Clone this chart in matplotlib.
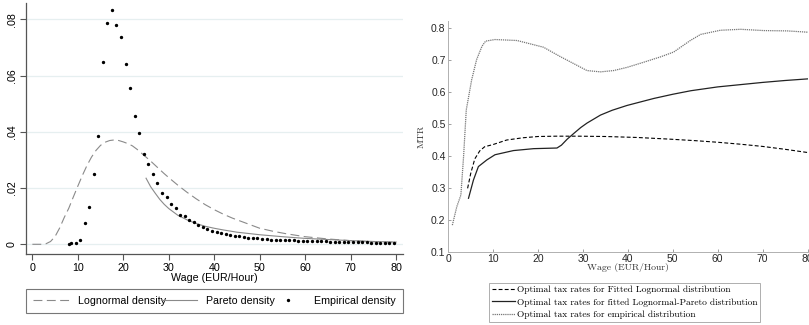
import numpy as np
import matplotlib
matplotlib.use("Agg")
import matplotlib.pyplot as plt
from matplotlib.legend_handler import HandlerLine2D

# ---- left panel: densities ----
logn_x = [0, 2, 3, 4, 5, 6, 7, 8, 9, 10, 11, 12, 13, 14, 15, 16, 17, 18, 19, 20,
          21, 22, 23, 24, 25, 26, 27, 28, 29, 30, 32, 34, 36, 38, 40, 42, 44, 46,
          48, 50, 53, 56, 60, 65, 70, 75, 80]
logn_y = [0, 0, 0.0002, 0.0010, 0.0028, 0.0058, 0.0095, 0.0128, 0.0168, 0.0207,
          0.0245, 0.0280, 0.0310, 0.0334, 0.0352, 0.0363, 0.0369, 0.0371, 0.0369,
          0.0364, 0.0358, 0.0350, 0.0338, 0.0324, 0.0310, 0.0296, 0.0281, 0.0266,
          0.0251, 0.0237, 0.0210, 0.0185, 0.0162, 0.0141, 0.0123, 0.0107, 0.0093,
          0.0081, 0.0069, 0.0057, 0.0046, 0.0037, 0.0027, 0.0019, 0.0013, 0.0009,
          0.0007]

pareto_x = [25, 26, 27, 28, 29, 30, 32, 34, 36, 38, 40, 42, 45, 50, 55, 60, 65, 70, 75, 80]
pareto_y = [0.0235, 0.0205, 0.0182, 0.0160, 0.0142, 0.0127, 0.0103, 0.0087, 0.0074,
            0.0064, 0.0057, 0.0051, 0.0043, 0.0034, 0.0027, 0.0021, 0.0017, 0.0013,
            0.0010, 0.0008]

emp_x = [8.0] + [8.5 + i for i in range(72)]
emp_y = [0, 0.0004, 0.0006, 0.0016, 0.0075, 0.0132, 0.0250, 0.0385, 0.0647, 0.0787,
         0.0834, 0.0781, 0.0738, 0.0642, 0.0555, 0.0455, 0.0395, 0.0320, 0.0286,
         0.0250, 0.0219, 0.0181, 0.0169, 0.0142, 0.0128, 0.0104, 0.0101, 0.0086,
         0.0078, 0.0069, 0.0060, 0.0053, 0.0049, 0.0043, 0.0039, 0.0036, 0.0033,
         0.0030, 0.0028, 0.0025, 0.0024, 0.0022, 0.0022, 0.0020, 0.0018,
         0.0017, 0.0016, 0.0016, 0.0015, 0.0014, 0.0014, 0.0013, 0.0012, 0.0012,
         0.0011, 0.0011, 0.0010, 0.0010, 0.0009, 0.0009, 0.0009, 0.0008, 0.0008,
         0.0008, 0.0007, 0.0007, 0.0007, 0.0006, 0.0006, 0.0006, 0.0006, 0.0005,
         0.0005]
emp_x = emp_x[:len(emp_y)]

left_yticks = [0, 0.02, 0.04, 0.06, 0.08]
left_yticklabels = ["0", ".02", ".04", ".06", ".08"]
xticks = [0, 10, 20, 30, 40, 50, 60, 70, 80]

# ---- right panel: optimal tax rates ----
mtr_logn_x = [4.3, 5.0, 5.9, 7.0, 8.1, 10, 13, 16.6, 20, 24, 29, 35, 42, 49, 55, 60, 65, 70, 75, 80]
mtr_logn_y = [0.298, 0.345, 0.390, 0.415, 0.428, 0.435, 0.449, 0.456, 0.460, 0.461,
              0.461, 0.460, 0.457, 0.452, 0.447, 0.442, 0.436, 0.429, 0.420, 0.410]

mtr_lp_x = [4.5, 5.6, 6.7, 8.6, 10.4, 14.5, 19, 24.2, 25.2, 26.5, 27.9, 29.5, 30.9,
            33.9, 36.5, 39.8, 45.8, 50, 54, 60, 65, 70, 75, 80]
mtr_lp_y = [0.267, 0.324, 0.366, 0.387, 0.403, 0.416, 0.422, 0.424, 0.433, 0.452,
            0.469, 0.488, 0.502, 0.527, 0.542, 0.557, 0.579, 0.592, 0.603, 0.615,
            0.622, 0.629, 0.635, 0.640]

mtr_emp_x = [0.9, 1.9, 2.8, 3.4, 4.0, 5.2, 6.3, 7.5, 8.3, 10.4, 15.3, 21.2, 24.9,
             30.9, 33.9, 36.8, 39.8, 43.5, 47.3, 50.2, 53.9, 56.2, 60.6, 65.1, 70.3,
             75.5, 80]
mtr_emp_y = [0.183, 0.241, 0.277, 0.397, 0.543, 0.637, 0.700, 0.742, 0.758, 0.763,
             0.760, 0.739, 0.710, 0.666, 0.662, 0.666, 0.676, 0.692, 0.709, 0.724,
             0.760, 0.779, 0.792, 0.795, 0.791, 0.790, 0.786]

right_yticks = [0.1, 0.2, 0.3, 0.4, 0.5, 0.6, 0.7, 0.8]


class DotAtEnd(HandlerLine2D):
    # Stata puts the legend marker right before its label
    def get_xdata(self, legend, xdescent, ydescent, width, height, fontsize):
        xdata = np.array([-xdescent, -xdescent + width])
        return xdata, np.array([-xdescent + width - 0.2 * fontsize])


W, H = 809, 325
fig = plt.figure(figsize=(W / 100, H / 100), dpi=100)

sans = ["Liberation Sans", "DejaVu Sans"]
serif = ["cmr10", "DejaVu Serif"]
fs_left = 7.7

# left axes
ax1 = fig.add_axes([26 / W, 71 / H, 377 / W, 251 / H])
ax1.plot(logn_x, logn_y, color="#8a8a8a", lw=0.8, ls=(0, (8, 4)), label="Lognormal density")
ax1.plot(pareto_x, pareto_y, color="#8a8a8a", lw=0.8, label="Pareto density")
emp_line, = ax1.plot(emp_x, emp_y, ls="none", marker="o", ms=1.4, color="black",
                     label="Empirical density")
ax1.set_xlim(-1.4, 81.5)
ax1.set_ylim(-0.00345, 0.0858)
ax1.set_yticks(left_yticks)
ax1.set_yticklabels(left_yticklabels, rotation=90, va="center", fontfamily=sans, fontsize=fs_left)
ax1.set_xticks(xticks)
ax1.set_xticklabels([str(t) for t in xticks], fontfamily=sans, fontsize=fs_left)
for s in ["top", "right"]:
    ax1.spines[s].set_visible(False)
for s in ["left", "bottom"]:
    ax1.spines[s].set_color("#555555")
    ax1.spines[s].set_linewidth(0.9)
ax1.tick_params(direction="out", length=4, width=0.8, color="#555555", pad=2.5)
ax1.grid(axis="y", color="#e6eff0", lw=0.9)
ax1.set_axisbelow(True)
ax1.set_xlabel("Wage (EUR/Hour)", fontfamily=sans, fontsize=fs_left, labelpad=0)
leg1 = ax1.legend(loc="lower left", bbox_to_anchor=(0.0, -0.235, 1.0, 0.09), mode="expand",
                  ncol=3, prop={"family": sans, "size": fs_left}, frameon=True, fancybox=False,
                  edgecolor="#555555", handlelength=3.4, borderaxespad=0, borderpad=0.65,
                  columnspacing=0.5, handletextpad=0.8,
                  handler_map={emp_line: DotAtEnd(numpoints=1)})
leg1.get_frame().set_linewidth(0.8)

# right axes
ax2 = fig.add_axes([448.3 / W, 73.3 / H, 359.2 / W, 230.4 / H])
ax2.plot(mtr_logn_x, mtr_logn_y, color="black", lw=0.8, ls=(0, (3.5, 2)),
         label="Optimal tax rates for Fitted Lognormal distribution")
ax2.plot(mtr_lp_x, mtr_lp_y, color="#222222", lw=0.9,
         label="Optimal tax rates for fitted Lognormal-Pareto distribution")
ax2.plot(mtr_emp_x, mtr_emp_y, color="#777777", lw=0.9, ls=(0, (1, 0.7)),
         label="Optimal tax rates for empirical distribution")
ax2.set_xlim(0, 80)
ax2.set_ylim(0.1, 0.82)
ax2.set_xticks(xticks)
ax2.set_xticklabels([str(t) for t in xticks], fontfamily=sans, fontsize=7.5, color="#262626")
ax2.set_yticks(right_yticks)
ax2.set_yticklabels(["%.1f" % t for t in right_yticks], fontfamily=sans, fontsize=7.5, color="#262626")
for s in ["top", "right"]:
    ax2.spines[s].set_visible(False)
for s in ["left", "bottom"]:
    ax2.spines[s].set_color("#b0b0b0")
    ax2.spines[s].set_linewidth(0.7)
ax2.tick_params(direction="in", length=2.5, width=0.6, color="#909090", pad=2)
ax2.set_xlabel("Wage (EUR/Hour)", fontfamily=serif, fontsize=7, color="#333333", labelpad=-1)
ax2.set_ylabel("MTR", fontfamily=serif, fontsize=7, color="#333333", labelpad=4)
leg = ax2.legend(loc="upper left", bbox_to_anchor=((488.7 - 448.3) / 359.2, -0.135),
                 prop={"family": serif, "size": 6.8}, frameon=True, fancybox=False,
                 edgecolor="#999999", handlelength=2.5, handletextpad=0.15,
                 borderaxespad=0, borderpad=0.3, labelspacing=0.4)
leg.get_frame().set_linewidth(0.7)

fig.savefig("out.png", dpi=100)
